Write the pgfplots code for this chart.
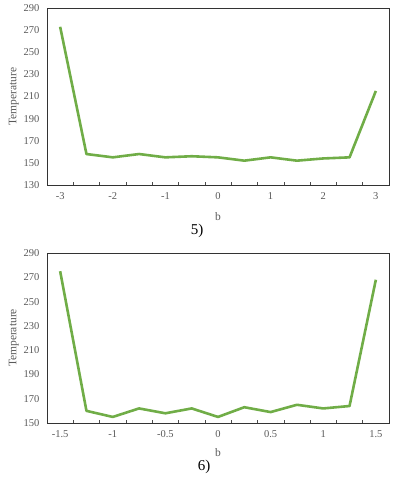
\documentclass[border=0pt]{standalone}
\usepackage{fontspec}
\setmainfont{Liberation Serif}
\usepackage{pgfplots}
\pgfplotsset{compat=1.18}
\definecolor{linegreen}{HTML}{70AD47}
\definecolor{ticktext}{HTML}{595959}
\pgfplotsset{
  excelstyle/.style={
    scale only axis,
    axis line style={draw=black!80, line width=0.6pt},
    tick label style={font=\fontsize{10.5}{12}\selectfont, text=ticktext},
    label style={font=\fontsize{11.5}{13}\selectfont, text=ticktext},
    ylabel={Temperature},
    xlabel={b},
    yticklabel style={xshift=-4pt},
    xticklabel style={yshift=-4pt},
    ylabel style={yshift=-2pt},
    xlabel style={yshift=-4pt},
    ytick style={draw=none},
    xtick pos=bottom,
    ytick pos=left,
    tick align=inside,
    major tick length=0pt,
    extra x tick style={major tick length=3pt, tick style={draw=black!70, line width=0.5pt}},
    extra x tick labels={},
    yticklabel style={/pgf/number format/assume math mode=true},
  },
}
\begin{document}
\begin{tikzpicture}
\useasboundingbox (0,0) rectangle (396pt,-480pt);
\begin{axis}[
  excelstyle,
  at={(47pt,-185pt)}, anchor=south west,
  width=342pt, height=177pt,
  xmin=-3.25, xmax=3.25,
  ymin=130, ymax=290,
  ytick={130,150,...,290},
  xtick={-3,-2,...,3},
  xticklabels={-3,-2,-1,0,1,2,3},
  extra x ticks={-2.75,-2.25,...,2.75},
  xlabel style={yshift=-2pt},
]
\addplot[linegreen, line width=2.6pt, line join=round] coordinates {
  (-3,273) (-2.5,158) (-2,155) (-1.5,158) (-1,155) (-0.5,156) (0,155)
  (0.5,152) (1,155) (1.5,152) (2,154) (2.5,155) (3,215)
};
\end{axis}
\node[font=\fontsize{15}{17}\selectfont] at (197pt,-231pt) {5)};
\begin{axis}[
  excelstyle,
  at={(47pt,-423pt)}, anchor=south west,
  width=342pt, height=170pt,
  xmin=-1.625, xmax=1.625,
  ymin=150, ymax=290,
  ytick={150,170,...,290},
  xtick={-1.5,-1,...,1.5},
  xticklabels={-1.5,-1,-0.5,0,0.5,1,1.5},
  extra x ticks={-1.375,-1.125,...,1.375},
]
\addplot[linegreen, line width=2.6pt, line join=round] coordinates {
  (-1.5,275) (-1.25,160) (-1,155) (-0.75,162) (-0.5,158) (-0.25,162) (0,155)
  (0.25,163) (0.5,159) (0.75,165) (1,162) (1.25,164) (1.5,268)
};
\end{axis}
\node[font=\fontsize{15}{17}\selectfont] at (204pt,-467pt) {6)};
\end{tikzpicture}
\end{document}
